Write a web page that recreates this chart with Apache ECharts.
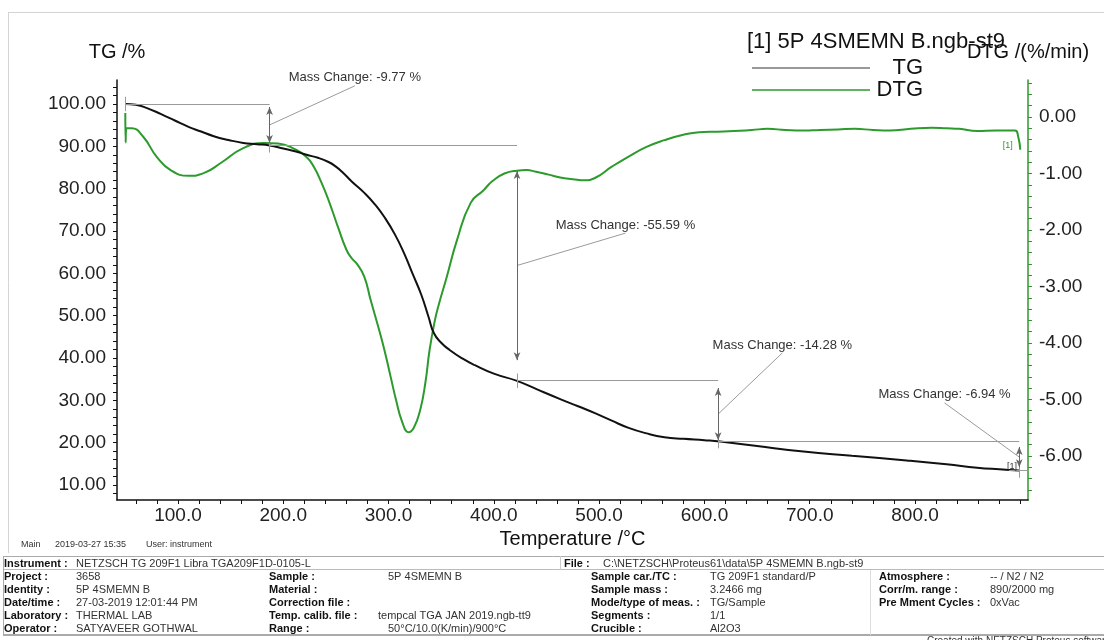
<!DOCTYPE html>
<html>
<head>
<meta charset="utf-8">
<script src="https://cdn.jsdelivr.net/npm/echarts@6/dist/echarts.min.js"></script>
<style>
html,body{margin:0;padding:0;background:#fff}
#main{width:1104px;height:640px}
</style>
</head>
<body>
<div id="main"></div>
<script>
// TG curve (mass %) vs temperature
var tgTemp = [50, 60, 70, 84, 97, 110, 122, 134, 148, 162, 175, 187, 200, 212, 222, 233, 243, 250, 257, 265,
              277, 287, 296, 306, 315, 323, 331, 338, 343, 350, 358, 370, 382, 400, 422, 440, 463, 480, 496, 512,
              528, 545, 562, 580, 600, 615, 650, 694, 740, 792, 830, 859, 880, 899];
var tgMass = [100.0, 99.8, 99.1, 97.6, 96.1, 94.6, 93.5, 92.4, 91.5, 90.8, 90.5, 90.2, 89.5, 88.8, 88.0, 87.3, 86.3, 85.2, 83.7, 81.7,
              79.0, 76.3, 73.3, 69.2, 64.6, 59.8, 55.0, 49.7, 45.9, 43.6, 41.9, 39.9, 38.3, 36.3, 34.6, 32.7, 30.3, 28.6, 27.0, 25.2,
              23.5, 22.2, 21.3, 20.9, 20.6, 20.3, 19.2, 17.9, 16.9, 15.8, 14.9, 14.1, 13.7, 13.4];

// DTG curve (%/min) vs temperature
var dtgTemp = [50, 50.3, 51, 56, 67, 80, 93, 110, 125, 141, 162, 182, 195, 209, 222, 229, 236, 243, 252, 260,
               265, 270, 277, 283, 290, 296, 302, 307, 313, 319, 324, 330, 335, 339, 344, 348, 355, 365, 378, 390,
               399, 410, 422, 431, 440, 452, 463, 475, 486, 496, 512, 528, 545, 562, 579, 595, 612, 628, 645, 660,
               677, 694, 710, 727, 743, 760, 776, 796, 816, 830, 842, 859, 877, 895, 898, 900];
var dtgRate = [0.07, -0.45, -0.2, -0.2, -0.35, -0.71, -0.94, -1.04, -0.99, -0.81, -0.55, -0.46, -0.47, -0.55, -0.71, -0.88, -1.15, -1.47, -1.95, -2.35,
               -2.5, -2.6, -2.83, -3.24, -3.7, -4.12, -4.6, -5.0, -5.4, -5.58, -5.5, -5.19, -4.7, -4.12, -3.6, -3.3, -2.85, -2.18, -1.52, -1.3,
               -1.13, -1.0, -0.95, -0.94, -0.97, -1.02, -1.07, -1.1, -1.12, -1.08, -0.88, -0.7, -0.53, -0.41, -0.32, -0.27, -0.26, -0.25, -0.23, -0.21,
               -0.23, -0.24, -0.23, -0.22, -0.21, -0.23, -0.24, -0.21, -0.19, -0.2, -0.21, -0.25, -0.24, -0.24, -0.35, -0.58];

// tick labels
var tempTicks = [100, 200, 300, 400, 500, 600, 700, 800];
var tgTicks = [10, 20, 30, 40, 50, 60, 70, 80, 90, 100];
var dtgTicks = [-6, -5, -4, -3, -2, -1, 0];

// mass change evaluation
var stepTemp = [50, 187, 422, 613, 899];
var stepMass = [100, 90.23, 34.64, 20.36, 13.42];
var changeText = ['-9.77', '-55.59', '-14.28', '-6.94'];
var arrowTop = [99.3, 84.2, 32.9, 19.0];
var arrowBottom = [90.8, 39.5, 20.6, 14.2];
var labelTemp = [268, 525, 674, 828];
var labelMass = [104.3, 69.5, 41.2, 29.4];

// info table texts
var col1Keys = ['Project :', 'Identity :', 'Date/time :', 'Laboratory :', 'Operator :'];
var col1Vals = ['3658', '5P 4SMEMN B', '27-03-2019 12:01:44 PM', 'THERMAL LAB', 'SATYAVEER GOTHWAL'];
var col2Keys = ['Sample :', 'Material :', 'Correction file :', 'Temp. calib. file :', 'Range :'];
var col2Vals = ['5P 4SMEMN B', '', '', 'tempcal TGA JAN 2019.ngb-tt9', '50°C/10.0(K/min)/900°C'];
var col3Keys = ['Sample car./TC :', 'Sample mass :', 'Mode/type of meas. :', 'Segments :', 'Crucible :'];
var col3Vals = ['TG 209F1 standard/P', '3.2466 mg', 'TG/Sample', '1/1', 'Al2O3'];
var col4Keys = ['Atmosphere :', 'Corr/m. range :', 'Pre Mment Cycles :'];
var col4Vals = ['-- / N2 / N2', '890/2000 mg', '0xVac'];

var FONT = '"Liberation Sans", Arial, sans-serif';
var GREEN = '#2c9a2c';

function steps(from, to, step) {
    var out = [];
    for (var v = from; v <= to + 1e-9; v += step) out.push(Math.round(v * 100) / 100);
    return out;
}
function zip(a, b) {
    return a.map(function (v, i) { return [v, b[i]]; });
}

var myChart = echarts.init(document.getElementById('main'));

// annotation lines (all in data coordinates)
var annoLines = [];
for (var i = 0; i < 4; i++) {
    annoLines.push([{coord: [stepTemp[i], stepMass[i]]}, {coord: [stepTemp[i + 1], stepMass[i]]}]);
}
annoLines.push([{coord: [889, stepMass[4]]}, {coord: [907, stepMass[4]]}]);
for (var i = 0; i < 5; i++) {
    annoLines.push([{coord: [stepTemp[i], stepMass[i] + 1.7]}, {coord: [stepTemp[i], stepMass[i] - 1.7]}]);
}
for (var i = 0; i < 4; i++) {
    var mid = (arrowTop[i] + arrowBottom[i]) / 2;
    annoLines.push([{coord: [labelTemp[i], labelMass[i]]}, {coord: [stepTemp[i + 1], mid]}]);
    annoLines.push([
        {coord: [stepTemp[i + 1], arrowTop[i]], symbol: 'arrow', symbolSize: [5, 8], lineStyle: {color: '#666'}},
        {coord: [stepTemp[i + 1], arrowBottom[i]], symbol: 'arrow', symbolSize: [5, 8]}
    ]);
}
var annoLabels = changeText.map(function (t, i) {
    return {name: 'Mass Change: ' + t + ' %', coord: [labelTemp[i], labelMass[i]]};
});
annoLabels.push({name: '[1]', coord: [892, 14.4], label: {position: 'inside', fontSize: 9, color: '#333'}});

// table graphics
var gfx = [];
function txt(x, y, s, bold, size, color) {
    gfx.push({type: 'text', left: x, top: y, silent: true,
        style: {text: s, font: (bold ? 'bold ' : '') + (size || 11) + 'px ' + FONT, fill: color || (bold ? '#111' : '#333')}});
}
function hline(x1, x2, y, w, c) {
    gfx.push({type: 'line', silent: true, shape: {x1: x1, y1: y, x2: x2, y2: y}, style: {stroke: c || '#aaa', lineWidth: w || 1}});
}
function vline(x, y1, y2, c) {
    gfx.push({type: 'line', silent: true, shape: {x1: x, y1: y1, x2: x, y2: y2}, style: {stroke: c || '#bbb', lineWidth: 1}});
}
hline(8, 1104, 12.5, 1, '#d4d4d4');
vline(8.5, 12, 553, '#d4d4d4');
hline(3, 1104, 556.5, 1, '#aaa');
hline(3, 1104, 569.5, 1, '#bbb');
hline(3, 1104, 635, 2, '#aaa');
vline(3.5, 556, 635, '#aaa');
vline(560.5, 556, 570, '#ccc');
vline(870.5, 570, 635, '#ddd');

txt(21, 540, 'Main', false, 9);
txt(55, 540, '2019-03-27 15:35', false, 9);
txt(146, 540, 'User: instrument', false, 9);
txt(4, 558, 'Instrument :', true);
txt(76, 558, 'NETZSCH TG 209F1 Libra TGA209F1D-0105-L');
txt(564, 558, 'File :', true);
txt(603, 558, 'C:\\NETZSCH\\Proteus61\\data\\5P 4SMEMN B.ngb-st9');
var rowY = [571, 584, 597, 610, 623];
for (var r = 0; r < 5; r++) {
    txt(4, rowY[r], col1Keys[r], true);
    txt(76, rowY[r], col1Vals[r]);
    txt(269, rowY[r], col2Keys[r], true);
    txt(r === 3 ? 378 : 388, rowY[r], col2Vals[r]);
    txt(591, rowY[r], col3Keys[r], true);
    txt(710, rowY[r], col3Vals[r]);
    if (r < 3) {
        txt(879, rowY[r], col4Keys[r], true);
        txt(990, rowY[r], col4Vals[r]);
    }
}
txt(927, 636, 'Created with NETZSCH Proteus software', false, 10, '#333');
txt(747, 31, '[1] 5P 4SMEMN B.ngb-st9', false, 22, '#111');

var option = {
    animation: false,
    textStyle: {fontFamily: FONT},
    graphic: gfx,
    legend: {
        orient: 'vertical',
        left: 747,
        top: 52,
        itemWidth: 118,
        itemHeight: 1.5,
        itemGap: 0,
        icon: 'rect',
        data: [{name: 'TG', itemStyle: {color: '#777'}}, {name: 'DTG', itemStyle: {color: GREEN}}],
        formatter: '{a|{name}}',
        textStyle: {
            color: '#111',
            rich: {a: {fontSize: 22, lineHeight: 22, width: 48, align: 'right', fontFamily: FONT, color: '#111'}}
        }
    },
    grid: {left: 117, top: 80, width: 911, height: 420, containLabel: false},
    xAxis: {
        type: 'value',
        min: 42.1,
        max: 907.3,
        name: 'Temperature /°C',
        nameLocation: 'middle',
        nameGap: 20,
        nameTextStyle: {fontSize: 20, color: '#111'},
        splitLine: {show: false},
        axisLine: {onZero: false, lineStyle: {color: '#111', width: 1.5}},
        axisTick: {customValues: steps(60, 900, 20), length: 4, lineStyle: {color: '#111'}},
        axisLabel: {customValues: tempTicks, fontSize: 19, color: '#222', margin: 6,
            formatter: function (v) { return v.toFixed(1); }}
    },
    yAxis: [{
        type: 'value',
        min: 6.46,
        max: 105.67,
        name: 'TG /%',
        nameLocation: 'end',
        nameGap: 18,
        nameTextStyle: {fontSize: 20, color: '#111', align: 'center'},
        splitLine: {show: false},
        axisLine: {show: true, onZero: false, lineStyle: {color: '#111', width: 1.5}},
        axisTick: {customValues: steps(8, 104, 2), length: 4, lineStyle: {color: '#111'}},
        axisLabel: {customValues: tgTicks, fontSize: 19, color: '#222', margin: 11,
            formatter: function (v) { return v.toFixed(2); }}
    }, {
        type: 'value',
        position: 'right',
        min: -6.78,
        max: 0.655,
        name: 'DTG /(%/min)',
        nameLocation: 'end',
        nameGap: 18,
        nameTextStyle: {fontSize: 20, color: '#111', align: 'center'},
        splitLine: {show: false},
        axisLine: {show: true, onZero: false, lineStyle: {color: GREEN, width: 1.5}},
        axisTick: {customValues: steps(-6.6, 0.6, 0.2), length: 4, lineStyle: {color: GREEN}},
        axisLabel: {customValues: dtgTicks, fontSize: 19, color: '#222', margin: 11,
            formatter: function (v) { return v.toFixed(2); }}
    }],
    series: [{
        name: 'DTG',
        type: 'line',
        yAxisIndex: 1,
        data: zip(dtgTemp, dtgRate),
        showSymbol: false,
        smooth: 0.5,
        color: GREEN,
        lineStyle: {color: GREEN, width: 2},
        z: 2,
        markPoint: {
            silent: true,
            symbol: 'circle',
            symbolSize: 1,
            itemStyle: {color: 'transparent'},
            label: {show: true, position: 'inside', formatter: '{b}', fontSize: 9, color: GREEN},
            data: [{name: '[1]', coord: [888, -0.5]}]
        }
    }, {
        name: 'TG',
        type: 'line',
        yAxisIndex: 0,
        data: zip(tgTemp, tgMass),
        showSymbol: false,
        smooth: 0.5,
        color: '#111',
        lineStyle: {color: '#111', width: 2},
        z: 3,
        markLine: {
            silent: true,
            symbol: ['none', 'none'],
            label: {show: false},
            lineStyle: {color: '#9a9a9a', width: 1, type: 'solid'},
            emphasis: {disabled: true},
            data: annoLines
        },
        markPoint: {
            silent: true,
            symbol: 'circle',
            symbolSize: 1,
            itemStyle: {color: 'transparent'},
            label: {show: true, position: 'top', distance: 1, formatter: '{b}', fontSize: 13, color: '#333'},
            data: annoLabels
        }
    }]
};
myChart.setOption(option);
</script>
</body>
</html>
